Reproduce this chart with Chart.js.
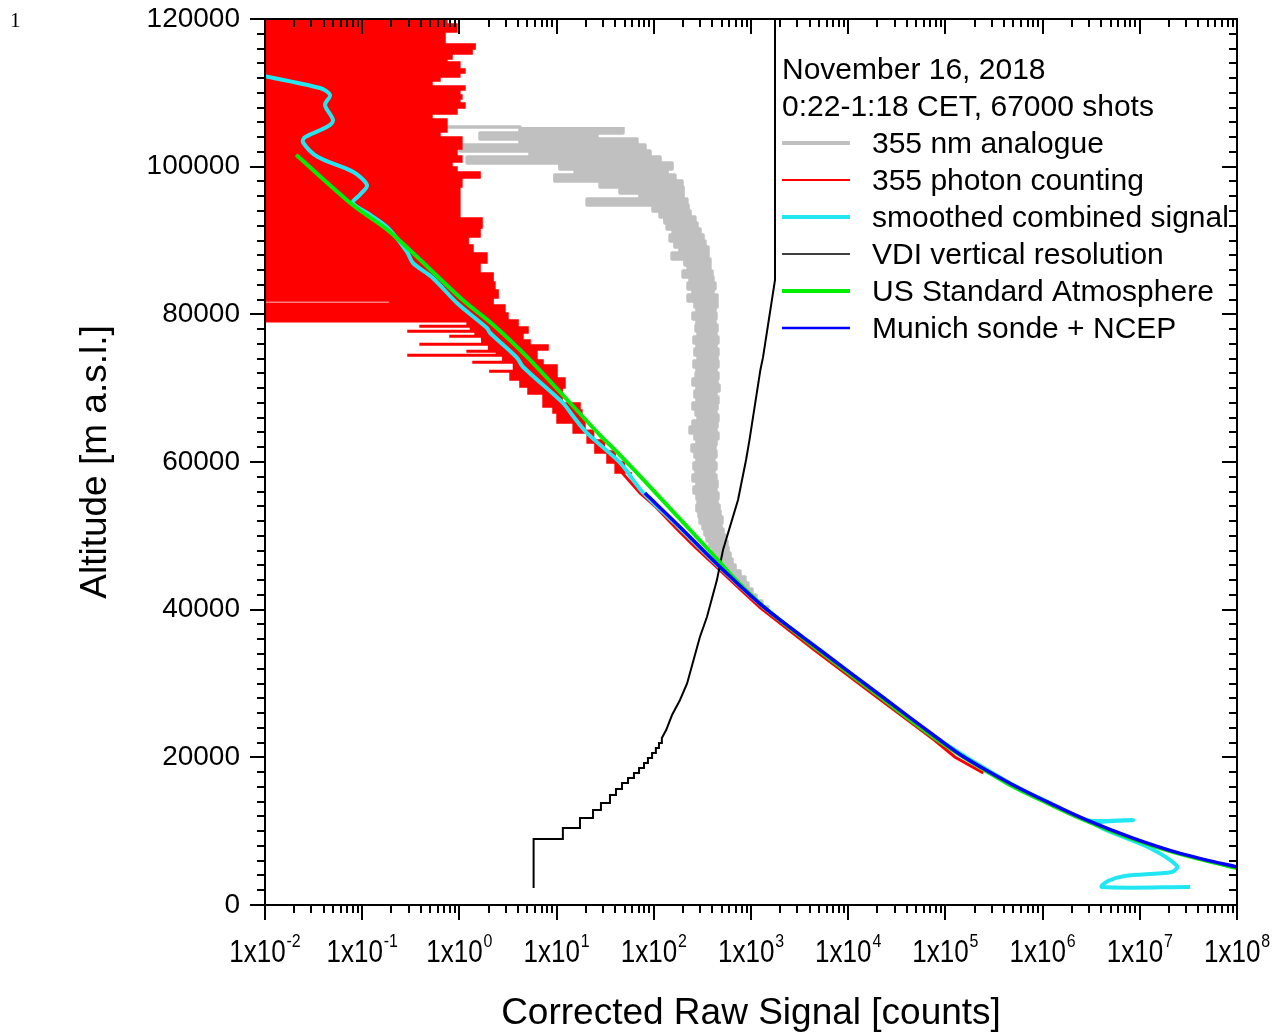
<!DOCTYPE html>
<html>
<head>
<meta charset="utf-8">
<title>Corrected raw signal, 16 Nov 2018</title>
<script src="https://cdn.jsdelivr.net/npm/chart.js@4.4.1/dist/chart.umd.min.js"></script>
<style>
    html, body { margin: 0; padding: 0; background: #fff; }
    #wrap { width: 1284px; height: 1036px; }
</style>
</head>
<body>
<div id="wrap"><canvas id="profile" width="1284" height="1036"></canvas></div>
<script>
// axis ticks
const xDecades = [-2, -1, 0, 1, 2, 3, 4, 5, 6, 7, 8];
const altitudeTicks = [0, 20000, 40000, 60000, 80000, 100000, 120000];
const altitudeMinorStep = 2000;

// 355 nm analogue: right and left edge of the noisy band at each altitude
const analogAlt = [105370, 104560, 103750, 102930, 102120, 101310, 100500, 99680, 98870, 98060,
    97250, 96430, 95620, 94810, 94000, 93180, 92370, 91560, 90740, 89930,
    89120, 88310, 87490, 86680, 85870, 85060, 84240, 83430, 82620, 81810,
    80990, 80180, 79370, 78560, 77740, 76930, 76120, 75300, 74490, 73680,
    72870, 72050, 71240, 70430, 69620, 68800, 67990, 67180, 66370, 65550,
    64740, 63930, 63120, 62300, 61490, 60680, 59860, 59050, 58240, 57430,
    56610, 55800, 54990, 54180, 53360, 52550, 51740, 50930, 50110, 49300,
    48490, 47670, 46860, 46050, 45240, 44420, 43610, 42800, 41990, 41170,
    40360];
const analogRight = [48.2, 26.0, 67.1, 81.2, 91.4, 116, 154, 137, 165, 195,
    200, 200, 219, 225, 236, 265, 278, 299, 321, 336,
    361, 361, 378, 378, 397, 406, 426, 406, 447, 447,
    426, 436, 426, 447, 436, 457, 436, 457, 447, 457,
    436, 457, 447, 469, 436, 457, 447, 436, 457, 447,
    436, 457, 436, 426, 436, 416, 436, 416, 436, 447,
    436, 457, 447, 469, 480, 503, 491, 515, 540, 566,
    580, 608, 638, 685, 771, 867, 930, 1023, 1125, 1238,
    1496];
const analogLeft = [0.711, 4.20, 1.63, 4.20, 1.01, 5.33, 1.20, 10.8, 15.5, 9.6,
    28.0, 44.9, 72.1, 20.6, 98.1, 116, 130, 137, 158, 147,
    165, 186, 154, 209, 225, 200, 236, 225, 253, 225,
    265, 278, 253, 278, 272, 285, 259, 278, 265, 285,
    259, 278, 272, 253, 278, 265, 278, 253, 272, 285,
    253, 236, 265, 278, 247, 265, 278, 259, 272, 253,
    278, 259, 278, 285, 278, 292, 299, 321, 336, 353,
    378, 406, 436, 480, 553, 638, 735, 847, 977, 1099,
    1297];

// 355 photon counting: right edge of the noise (going down) ...
const pcRightSig = [0.744, 0.944, 0.711, 1.45, 1.35, 0.839, 0.744, 1.01, 1.14, 1.01,
    0.631, 0.522, 1.14, 1.01, 1.06, 1.01, 1.14, 0.944, 0.522, 0.744,
    0.744, 0.631, 1.06, 1.06, 0.944, 1.06, 0.839, 0.944, 1.63, 1.06,
    1.01, 1.01, 1.01, 1.71, 1.63, 1.23, 1.38, 1.92, 1.63, 2.22,
    2.32, 2.50, 2.22, 2.94, 3.16, 4.01, 5.08, 4.51, 5.33, 8.16,
    6.28, 7.25, 10.1, 12.2, 11.4, 17.4, 18.2, 19.6, 24, 31,
    40, 50, 60];
const pcRightAlt = [120500, 119320, 118240, 116610, 115940, 115260, 114580, 114180, 113230, 112690,
    112140, 111600, 110920, 110380, 109710, 109170, 108620, 107950, 107130, 106460,
    105510, 104700, 104020, 103340, 102390, 101440, 100630, 99950, 99280, 98470,
    97250, 95890, 94540, 93050, 91690, 90470, 89390, 88310, 86950, 85600,
    84380, 83300, 82210, 81260, 80180, 79230, 78280, 77470, 76520, 75850,
    75170, 73810, 73140, 71380, 70020, 67990, 67040, 65690, 64300, 62980,
    61500, 60000, 58500];
// ... and left edge going back up (values below 0.01 fall off the axis)
const pcLeftSig = [40, 33, 24.8, 20.6, 14.8, 10.1, 9.18, 7.25, 5.08, 4.2,
    3.32, 2.06, 3.6, 1.38, 2.8, 0.296, 2.4, 1.20, 2.0, 0.394,
    1.7, 0.80, 1.45, 0.296, 1.3, 0.394, 1.2, 0.001, 0.193, 0.001,
    0.001];
const pcLeftAlt = [58500, 59860, 61220, 62570, 63930, 65280, 66640, 67450, 69210, 70160,
    71110, 72190, 72400, 73410, 73600, 74360, 74560, 74900, 75100, 75850,
    76050, 76930, 77130, 77610, 77810, 78280, 78480, 79000, 81500, 81800,
    120500];
// lower part of the photon counting profile
const pcTailSig = [44, 72, 105, 165, 265, 420, 850, 1250, 4500, 18500, 77000, 125000, 245000];
const pcTailAlt = [59000, 55800, 53910, 51200, 48490, 46050, 42260, 40230, 34540, 28440, 22350, 20050, 17880];

// smoothed combined signal
const smoothSig = [0.008, 0.0368, 0.0467, 0.0414, 0.050, 0.0435, 0.0258, 0.0246, 0.0351, 0.0804,
    0.112, 0.0948, 0.080, 0.120, 0.184, 0.289, 0.333, 0.535, 0.95, 1.92,
    2.06, 3.92, 4.5, 11.6, 14.4, 20.6, 44.9, 78, 180, 450,
    1380, 5100, 21000, 87000, 460000, 1.19e6, 2.86e6, 8.5e6, 3.46e6, 1.27e7,
    2.42e7, 2.14e7, 7.0e6, 4.7e6, 4.07e6, 3.3e7];
const smoothAlt = [112500, 110650, 109700, 108350, 106300, 105400, 104000, 103300, 101300, 99300,
    97500, 96200, 95100, 93500, 91700, 88450, 86950, 84900, 81500, 78150,
    77500, 74100, 72900, 68000, 66400, 63900, 59900, 55800, 51200, 46050,
    40230, 34540, 28440, 22350, 16500, 13800, 11500, 11500, 10970, 7720,
    5280, 4470, 3930, 3250, 2440, 2440];

// VDI vertical resolution (stairs at the bottom)
const vdiSig = [5.8, 5.8, 11.6, 11.6, 17.4, 17.4, 23.7, 23.7, 28.6, 28.6,
    35.4, 35.4, 40.8, 40.8, 47.1, 47.1, 54.3, 54.3, 62.5, 62.5,
    70.5, 70.5, 79.3, 79.3, 87, 87, 96, 96, 105, 105,
    113, 113, 121, 121, 134, 154, 186, 220, 298, 352,
    446, 515, 735, 890, 965, 1250, 1330, 1766, 1766];
const vdiAlt = [2300, 8940, 8940, 10430, 10430, 11780, 11780, 12870, 12870, 13815,
    13815, 14900, 14900, 15710, 15710, 16520, 16520, 17200, 17200, 17880,
    17880, 18550, 18550, 19230, 19230, 19910, 19910, 20590, 20590, 21260,
    21260, 21940, 21940, 22620, 23700, 25730, 27770, 30000, 36300, 39000,
    44000, 48080, 54850, 60300, 63000, 72500, 74200, 84650, 120000];

// US Standard Atmosphere
const usStdSig = [0.0209, 0.080, 0.193, 1.09, 2.22, 5.08, 27.9, 42.9, 105, 430,
    700, 1400, 4900, 20000, 83000, 430000, 1.12e6, 2.7e6, 8.0e6, 2.45e7, 1e8, 1.5e8];
const usStdAlt = [101600, 94800, 91150, 81900, 78600, 74100, 63650, 61200, 55800, 47100,
    44000, 40230, 34540, 28440, 22350, 16500, 13800, 11500, 9070, 7000, 5000, 4500];

// Munich sonde + NCEP
const sondeSig = [81, 186, 457, 1390, 5130, 21200, 88000, 155000, 460000, 1.19e6, 2.86e6, 8.5e6, 2.6e7, 1e8, 1.6e8];
const sondeAlt = [55800, 51200, 46050, 40230, 34540, 28440, 22350, 20050, 16500, 13800, 11500, 9070, 7000, 5150, 4600];

const headerLines = ['November 16, 2018', '0:22-1:18 CET, 67000 shots'];
const legendLabels = ['355 nm analogue', '355 photon counting', 'smoothed combined signal',
    'VDI vertical resolution', 'US Standard Atmosphere', 'Munich sonde + NCEP'];

const GRAY = '#c0c0c0';
const RED = '#ff0000';
const CYAN = '#22e6f2';
const BLACK = '#000000';
const GREEN = '#00ee00';
const BLUE = '#0000ff';
const legendColors = [GRAY, RED, CYAN, BLACK, GREEN, BLUE];
const legendWidths = [4, 2, 4, 1.5, 4, 2.5];
const FONT = "'Liberation Sans', Arial, sans-serif";

const pts = (sig, alt) => sig.map((v, i) => ({ x: v, y: alt[i] }));

// frame, ticks, superscript x labels and the in-plot legend
const profileDecor = {
    id: 'profileDecor',
    afterDraw(chart) {
        const { ctx, chartArea: area } = chart;
        const xs = chart.scales.x;
        const ys = chart.scales.y;
        ctx.save();
        ctx.strokeStyle = '#000';
        ctx.fillStyle = '#000';
        ctx.lineWidth = 2;
        ctx.strokeRect(area.left, area.top, area.right - area.left, area.bottom - area.top);

        ctx.beginPath();
        xDecades.forEach(e => {
            const last = e === xDecades[xDecades.length - 1] ? 1 : 9;
            for (let m = 1; m <= last; m++) {
                const px = Math.round(xs.getPixelForValue(m * Math.pow(10, e)));
                const len = m === 1 ? 15 : 8;
                ctx.moveTo(px, area.bottom);
                ctx.lineTo(px, area.bottom + len);
                ctx.moveTo(px, area.top);
                ctx.lineTo(px, area.top + len);
            }
        });
        for (let v = 0; v <= 120000; v += altitudeMinorStep) {
            const py = Math.round(ys.getPixelForValue(v));
            const len = altitudeTicks.includes(v) ? 15 : 8;
            ctx.moveTo(area.left, py);
            ctx.lineTo(area.left - len, py);
            ctx.moveTo(area.right, py);
            ctx.lineTo(area.right - len, py);
        }
        ctx.stroke();

        // 1x10^n labels
        const sx = 0.84;
        xDecades.forEach(e => {
            const px = xs.getPixelForValue(Math.pow(10, e));
            const sup = String(e);
            ctx.font = `31px ${FONT}`;
            const wb = ctx.measureText('1x10').width;
            ctx.font = `19px ${FONT}`;
            const ws = ctx.measureText(sup).width;
            ctx.save();
            ctx.translate(px - (wb + ws + 1) * sx / 2, area.bottom + 57);
            ctx.scale(sx, 1);
            ctx.textAlign = 'left';
            ctx.textBaseline = 'alphabetic';
            ctx.font = `31px ${FONT}`;
            ctx.fillText('1x10', 0, 0);
            ctx.font = `19px ${FONT}`;
            ctx.fillText(sup, wb + 1, -15);
            ctx.restore();
        });

        // legend
        const lx = area.left + 517;
        const rowH = 37;
        const top = area.top + 49;
        ctx.textAlign = 'left';
        ctx.textBaseline = 'alphabetic';
        ctx.font = `30px ${FONT}`;
        headerLines.forEach((t, i) => ctx.fillText(t, lx, top + i * rowH + 11));
        legendLabels.forEach((t, i) => {
            const cy = top + (i + 2) * rowH;
            ctx.beginPath();
            ctx.strokeStyle = legendColors[i];
            ctx.lineWidth = legendWidths[i];
            ctx.moveTo(lx, cy + 1);
            ctx.lineTo(lx + 68, cy + 1);
            ctx.stroke();
            ctx.fillText(t, lx + 90, cy + 11);
        });

        // page number
        ctx.font = "21px 'Liberation Serif', serif";
        ctx.fillText('1', 10, 27);
        ctx.restore();
    }
};

new Chart(document.getElementById('profile'), {
    type: 'line',
    data: {
        datasets: [
            {
                label: 'Munich sonde + NCEP',
                data: pts(sondeSig, sondeAlt),
                borderColor: BLUE, borderWidth: 3.5, tension: 0.3, order: 0
            },
            {
                label: 'US Standard Atmosphere',
                data: pts(usStdSig, usStdAlt),
                borderColor: GREEN, borderWidth: 4, tension: 0.3, order: 1
            },
            {
                label: 'VDI vertical resolution',
                data: pts(vdiSig, vdiAlt),
                borderColor: BLACK, borderWidth: 2, order: 2
            },
            {
                label: 'smoothed combined signal',
                data: pts(smoothSig, smoothAlt),
                borderColor: CYAN, borderWidth: 4, tension: 0.3, order: 3
            },
            {
                label: '355 photon counting',
                data: pts(pcTailSig, pcTailAlt),
                borderColor: RED, borderWidth: 3, order: 4
            },
            {
                label: '355 photon counting',
                data: pts(pcRightSig, pcRightAlt).concat(pts(pcLeftSig, pcLeftAlt)),
                borderColor: RED, backgroundColor: RED, borderWidth: 1.5,
                stepped: 'after', fill: 'shape', order: 5
            },
            {
                label: '355 nm analogue',
                data: pts(analogRight, analogAlt).concat(pts(analogLeft, analogAlt).reverse()),
                borderColor: GRAY, backgroundColor: GRAY, borderWidth: 3.5,
                borderJoinStyle: 'round', stepped: 'after', fill: 'shape', order: 6
            }
        ]
    },
    options: {
        responsive: false,
        animation: false,
        events: [],
        layout: { padding: { left: 70, right: 47, top: 19, bottom: 0 } },
        elements: { point: { radius: 0 } },
        plugins: {
            legend: { display: false },
            tooltip: { enabled: false }
        },
        scales: {
            x: {
                type: 'logarithmic',
                min: 0.01,
                max: 1e8,
                grid: { display: false },
                border: { display: false },
                ticks: { display: false },
                title: {
                    display: true,
                    text: 'Corrected Raw Signal [counts]',
                    color: '#000',
                    padding: { top: 0, bottom: 0 },
                    font: { family: FONT, size: 37 }
                },
                afterFit: s => { s.height = 131; }
            },
            y: {
                type: 'linear',
                min: 0,
                max: 120000,
                grid: { display: false, drawTicks: false },
                border: { display: false },
                afterBuildTicks: s => { s.ticks = altitudeTicks.map(v => ({ value: v })); },
                ticks: {
                    padding: 25,
                    color: '#000',
                    font: { family: FONT, size: 28 },
                    callback: v => String(v)
                },
                title: {
                    display: true,
                    text: 'Altitude [m a.s.l.]',
                    color: '#000',
                    font: { family: FONT, size: 37 }
                },
                afterFit: s => {
                    s.width = 195;
                    s.paddingTop = 0;
                    s.paddingBottom = 0;
                }
            }
        }
    },
    plugins: [profileDecor]
});
</script>
</body>
</html>
